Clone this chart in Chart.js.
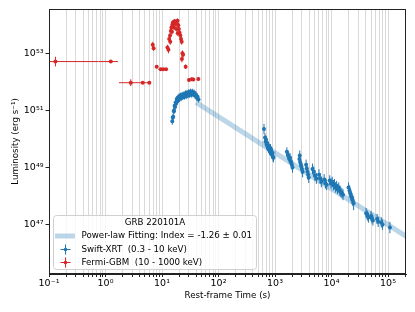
<!DOCTYPE html>
<html>
<head>
<meta charset="utf-8">
<script src="https://cdn.jsdelivr.net/npm/chart.js@4.4.1/dist/chart.umd.min.js"></script>
<style>
  html, body { margin: 0; padding: 0; background: #fff; }
</style>
</head>
<body>
<canvas id="chart" width="415" height="312"></canvas>
<script>
// axis ticks
const xTickValues = [0.1, 1, 10, 100, 1e3, 1e4, 1e5]
const xTickLabels = ['10⁻¹', '10⁰', '10¹', '10²', '10³', '10⁴', '10⁵']
const yTickValues = [1e47, 1e49, 1e51, 1e53]
const yTickLabels = ['10⁴⁷', '10⁴⁹', '10⁵¹', '10⁵³']

// Fermi-GBM (10 - 1000 keV): time (s), bin edges, luminosity (erg/s), error (dex)
const gbmTime = [0.13, 1.24, 2.8, 4.55, 5.96, 6.85, 7.1, 8.05, 9.5, 10.5, 11.8,
	12.5, 13.0, 13.4, 13.9, 14.0, 14.3, 14.7, 15.0, 15.2, 15.6, 16.1, 16.3, 16.6, 17.1, 17.6, 18.0, 18.2, 18.8,
	19.0, 19.4, 19.9, 20.5, 21.1, 21.7, 22.3, 22.5, 23.0, 23.6, 26.2, 30.0, 33.6, 35.8, 39.4, 43.9]
const gbmTimeLo = [0.05, 0.75, 1.73, 3.9, 5.3, 6.7, 7.0, 7.8, 8.6, 10.0, 11.1,
	12.3, 12.8, 13.2, 13.7, 13.8, 14.1, 14.5, 14.8, 15.0, 15.4, 15.9, 16.1, 16.4, 16.9, 17.4, 17.8, 18.0, 18.6,
	18.8, 19.2, 19.7, 20.3, 20.9, 21.5, 22.1, 22.3, 22.8, 23.4, 25.6, 29.0, 32.6, 34.8, 38.4, 42.4]
const gbmTimeHi = [0.75, 1.66, 3.9, 5.3, 6.4, 7.0, 7.25, 8.3, 10.0, 11.1, 12.4,
	12.7, 13.2, 13.6, 14.1, 14.2, 14.5, 14.9, 15.2, 15.4, 15.8, 16.3, 16.5, 16.8, 17.3, 17.8, 18.2, 18.4, 19.0,
	19.2, 19.6, 20.1, 20.7, 21.3, 21.9, 22.5, 22.7, 23.2, 23.8, 26.8, 31.0, 34.6, 36.8, 40.4, 45.4]
const gbmLum = [5.13e52, 5.13e52, 9.33e51, 9.33e51, 9.33e51, 2.00e53, 1.51e53, 3.39e52, 2.75e52, 2.75e52, 2.75e52,
	1.58e53, 1.32e53, 3.16e53, 4.17e53, 2.51e53, 6.03e53, 7.94e53, 5.62e53, 1.00e54, 1.20e54, 1.12e54, 7.94e53, 1.32e54, 1.05e54, 1.26e54, 7.08e53, 1.15e54, 1.38e54,
	5.01e53, 9.55e53, 7.08e53, 5.25e53, 4.17e53, 3.16e53, 2.51e53, 6.31e52, 1.00e53, 8.91e52, 3.39e52, 1.17e52, 1.23e52, 1.20e52, 3.47e51, 1.26e52]
const gbmLumErr = [0.17, 0.05, 0.12, 0.04, 0.04, 0.1, 0.1, 0.05, 0.04, 0.04, 0.04,
	0.1, 0.12, 0.1, 0.09, 0.1, 0.09, 0.08, 0.09, 0.08, 0.08, 0.08, 0.09, 0.08, 0.08, 0.08, 0.09, 0.08, 0.08,
	0.09, 0.08, 0.08, 0.09, 0.09, 0.09, 0.1, 0.12, 0.1, 0.1, 0.08, 0.06, 0.06, 0.06, 0.12, 0.06]

// Swift-XRT (0.3 - 10 keV): time (s), luminosity (erg/s), error (dex)
const xrtTime = [15.2, 15.5, 15.8, 16.1, 16.4, 16.7, 17.0, 17.4, 17.8, 18.2, 18.6, 19.1, 19.6, 20.1, 20.7, 21.3, 22.0, 22.7,
	23.4, 24.2, 25.0, 25.9, 26.8, 27.7, 28.7, 29.7, 30.8, 31.9, 33.1, 34.3, 35.6, 36.9, 38.3, 39.7, 41.2, 42.7, 44.3,
	638, 665, 679, 693, 708, 722, 737, 752, 768, 784, 800, 816, 832, 849, 867, 885, 903, 922, 940,
	1620, 1680, 1740, 1790, 1840, 1890, 1940, 1990, 2040,
	2700, 2740, 2780, 2850, 2920, 3000, 3080,
	3550, 3650, 3750, 3850, 3950, 4600, 4850, 5100, 5400, 6000, 6300, 6600, 7400, 7800, 8200,
	9300, 9800, 10300, 10800, 11300, 11800, 12300, 12800, 13400, 14000, 14600, 15300, 16000,
	20000, 20800, 21500, 22200, 23000, 23800, 24600,
	41000, 43000, 45000, 50000, 52000, 54000, 64000, 67000, 76000, 80000, 108000]
const xrtLum = [4.17e50, 5.62e50, 6.03e50, 9.55e50, 9.55e50, 1.45e51, 1.32e51, 1.91e51, 1.74e51, 2.51e51, 2.09e51, 2.75e51, 2.29e51, 3.16e51, 2.63e51, 3.31e51, 2.75e51, 3.55e51,
	2.88e51, 3.63e51, 3.02e51, 3.98e51, 3.16e51, 4.17e51, 3.31e51, 4.37e51, 3.47e51, 4.57e51, 3.55e51, 4.57e51, 3.63e51, 4.27e51, 3.31e51, 3.63e51, 2.75e51, 3.02e51, 2.40e51,
	2.24e50, 1.12e50, 7.94e49, 9.55e49, 6.31e49, 7.24e49, 5.25e49, 6.03e49, 4.37e49, 5.01e49, 3.80e49, 4.17e49, 4.79e49, 3.47e49, 3.02e49, 2.75e49, 3.31e49, 2.40e49, 2.19e49,
	3.55e49, 2.82e49, 2.51e49, 2.00e49, 2.24e49, 1.66e49, 1.51e49, 1.26e49, 1.00e49,
	2.00e49, 2.63e49, 1.58e49, 1.32e49, 1.12e49, 8.91e48, 7.08e48,
	1.26e49, 9.55e48, 7.08e48, 5.62e48, 4.47e48, 8.91e48, 7.08e48, 5.25e48, 4.17e48, 5.62e48, 4.17e48, 3.16e48, 3.80e48, 2.82e48, 2.51e48,
	3.55e48, 2.82e48, 3.16e48, 2.40e48, 2.63e48, 2.00e48, 2.24e48, 1.78e48, 2.00e48, 1.58e48, 1.41e48, 1.26e48, 1.12e48,
	2.00e48, 1.58e48, 1.26e48, 1.00e48, 8.32e47, 7.08e47, 5.62e47,
	2.51e47, 2.09e47, 1.78e47, 2.00e47, 1.66e47, 1.41e47, 1.58e47, 1.26e47, 1.20e47, 1.00e47, 7.94e46]
const xrtLumErr = [0.12, 0.11, 0.11, 0.1, 0.1, 0.1, 0.1, 0.1, 0.1, 0.1, 0.1, 0.1, 0.1, 0.1, 0.1, 0.1, 0.1, 0.1,
	0.1, 0.1, 0.1, 0.1, 0.1, 0.1, 0.1, 0.1, 0.1, 0.1, 0.1, 0.1, 0.1, 0.1, 0.1, 0.1, 0.1, 0.1, 0.1,
	0.18, 0.15, 0.14, 0.14, 0.14, 0.14, 0.14, 0.14, 0.14, 0.14, 0.14, 0.14, 0.14, 0.14, 0.14, 0.14, 0.15, 0.16, 0.16,
	0.16, 0.16, 0.16, 0.16, 0.16, 0.16, 0.16, 0.17, 0.18,
	0.18, 0.18, 0.18, 0.18, 0.18, 0.18, 0.19,
	0.18, 0.18, 0.18, 0.19, 0.19, 0.19, 0.19, 0.19, 0.19, 0.19, 0.19, 0.19, 0.19, 0.19, 0.19,
	0.18, 0.18, 0.18, 0.18, 0.18, 0.18, 0.18, 0.18, 0.18, 0.18, 0.18, 0.18, 0.19,
	0.18, 0.18, 0.18, 0.18, 0.19, 0.2, 0.24,
	0.18, 0.18, 0.18, 0.18, 0.18, 0.18, 0.18, 0.18, 0.18, 0.18, 0.2]
const xrtTimeFrac = 0.02

// power-law fit, index -1.26
const fitTime = [40, 3e5]
const fitLum = [1.91e51, 2.5e46]

const blue = '#1f77b4'
const red = '#d62728'
const font = 'DejaVu Sans'
const fontSize = 8.7

const xMinorTicks = []
xTickValues.forEach(d => {
	for (let m = 1; m <= 9; m++) if (m * d <= 2.08e5) xMinorTicks.push(m * d)
})

const errorBars = {
	id: 'errorBars',
	beforeDatasetDraw(chart, args) {
		const ds = chart.data.datasets[args.index]
		if (!ds.errors) return
		const { ctx, chartArea, scales: { x, y } } = chart
		ctx.save()
		ctx.beginPath()
		ctx.rect(chartArea.left, chartArea.top, chartArea.width, chartArea.height)
		ctx.clip()
		ctx.strokeStyle = ds.borderColor
		ctx.lineWidth = 1
		ds.data.forEach((p, i) => {
			const e = ds.errors[i]
			const px = x.getPixelForValue(p.x)
			const py = y.getPixelForValue(p.y)
			ctx.beginPath()
			ctx.moveTo(x.getPixelForValue(e.xlo), py)
			ctx.lineTo(x.getPixelForValue(e.xhi), py)
			ctx.moveTo(px, y.getPixelForValue(e.ylo))
			ctx.lineTo(px, y.getPixelForValue(e.yhi))
			ctx.stroke()
		})
		ctx.restore()
	},
}

const frameAndLegend = {
	id: 'frameAndLegend',
	afterDraw(chart) {
		const { ctx, chartArea: a } = chart
		ctx.save()
		ctx.strokeStyle = '#222'
		ctx.lineWidth = 1
		ctx.strokeRect(Math.round(a.left) + 0.5, Math.round(a.top) + 0.5, Math.round(a.width) - 1, Math.round(a.height) - 1)

		// legend box
		const bx = 53.5, by = 215.5, bw = 203, bh = 54
		ctx.beginPath()
		ctx.roundRect(bx, by, bw, bh, 3)
		ctx.fillStyle = 'rgba(255,255,255,0.8)'
		ctx.fill()
		ctx.strokeStyle = '#d0d0d0'
		ctx.stroke()

		ctx.fillStyle = '#000'
		ctx.font = `${fontSize}px "${font}"`
		ctx.textBaseline = 'middle'
		ctx.textAlign = 'center'
		ctx.fillText('GRB 220101A', 155, 223)
		ctx.textAlign = 'left'
		ctx.fillText('Power-law Fitting: Index = -1.26 ± 0.01', 81.5, 236)
		ctx.fillText('Swift-XRT  (0.3 - 10 keV)', 81.5, 249.5)
		ctx.fillText('Fermi-GBM  (10 - 1000 keV)', 81.5, 262.5)

		ctx.strokeStyle = 'rgba(31,119,180,0.3)'
		ctx.lineWidth = 5
		ctx.beginPath()
		ctx.moveTo(55, 236)
		ctx.lineTo(75, 236)
		ctx.stroke()

		ctx.lineWidth = 1
		;[[blue, 249.5], [red, 262.5]].forEach(([c, yy]) => {
			ctx.strokeStyle = c
			ctx.fillStyle = c
			ctx.beginPath()
			ctx.moveTo(60.5, yy)
			ctx.lineTo(70.5, yy)
			ctx.moveTo(65.5, yy - 5)
			ctx.lineTo(65.5, yy + 5)
			ctx.stroke()
			ctx.beginPath()
			ctx.arc(65.5, yy, 1.8, 0, Math.PI * 2)
			ctx.fill()
		})
		ctx.restore()
	},
}

const toPoints = (t, l) => t.map((v, i) => ({ x: v, y: l[i] }))

new Chart(document.getElementById('chart'), {
	type: 'scatter',
	data: {
		datasets: [
			{
				label: 'Power-law Fitting: Index = -1.26 ± 0.01',
				type: 'line',
				data: toPoints(fitTime, fitLum),
				borderColor: 'rgba(31,119,180,0.3)',
				borderWidth: 5,
				pointRadius: 0,
				fill: false,
			},
			{
				label: 'Swift-XRT  (0.3 - 10 keV)',
				data: toPoints(xrtTime, xrtLum),
				errors: xrtTime.map((t, i) => ({
					xlo: t * (1 - xrtTimeFrac),
					xhi: t * (1 + xrtTimeFrac),
					ylo: xrtLum[i] / Math.pow(10, xrtLumErr[i]),
					yhi: xrtLum[i] * Math.pow(10, xrtLumErr[i]),
				})),
				borderColor: blue,
				backgroundColor: blue,
				pointRadius: 2,
				borderWidth: 0,
			},
			{
				label: 'Fermi-GBM  (10 - 1000 keV)',
				data: toPoints(gbmTime, gbmLum),
				errors: gbmTime.map((t, i) => ({
					xlo: gbmTimeLo[i],
					xhi: gbmTimeHi[i],
					ylo: gbmLum[i] / Math.pow(10, gbmLumErr[i]),
					yhi: gbmLum[i] * Math.pow(10, gbmLumErr[i]),
				})),
				borderColor: red,
				backgroundColor: red,
				pointRadius: 2,
				borderWidth: 0,
			},
		],
	},
	options: {
		responsive: false,
		devicePixelRatio: 1,
		animation: false,
		layout: { padding: { top: 9, right: 9, left: 0, bottom: 0 } },
		plugins: { legend: { display: false }, tooltip: { enabled: false } },
		scales: {
			x: {
				type: 'logarithmic',
				min: 0.1,
				max: 2.08e5,
				afterBuildTicks: scale => {
					scale.ticks = xMinorTicks.map(v => ({ value: v }))
				},
				afterFit: scale => {
					scale.height = 38
				},
				ticks: {
					autoSkip: false,
					maxRotation: 0,
					padding: 1,
					color: '#000',
					font: { family: font, size: 9.5 },
					callback: v => {
						const i = xTickValues.findIndex(t => Math.abs(t - v) / t < 1e-6)
						return i >= 0 ? xTickLabels[i] : ''
					},
				},
				grid: {
					color: 'rgba(0,0,0,0.15)',
					tickColor: '#222',
					tickLength: 3,
				},
				border: { color: '#222' },
				title: {
					display: true,
					text: 'Rest-frame Time (s)',
					color: '#000',
					font: { family: font, size: fontSize },
					padding: { top: 0, bottom: 11 },
				},
			},
			y: {
				type: 'logarithmic',
				min: 1.88e45,
				max: 3.55e54,
				afterBuildTicks: scale => {
					scale.ticks = yTickValues.map(v => ({ value: v }))
				},
				afterFit: scale => {
					scale.width = 49
				},
				ticks: {
					padding: 2,
					color: '#000',
					font: { family: font, size: 9.5 },
					callback: v => {
						const i = yTickValues.findIndex(t => Math.abs(t - v) / t < 1e-6)
						return i >= 0 ? yTickLabels[i] : ''
					},
				},
				grid: {
					drawOnChartArea: false,
					tickColor: '#222',
					tickLength: 3.5,
				},
				border: { color: '#222' },
				title: {
					display: true,
					text: 'Luminosity (erg s⁻¹)',
					color: '#000',
					font: { family: font, size: fontSize },
					padding: { top: 11, bottom: 0 },
				},
			},
		},
	},
	plugins: [errorBars, frameAndLegend],
})
</script>
</body>
</html>
